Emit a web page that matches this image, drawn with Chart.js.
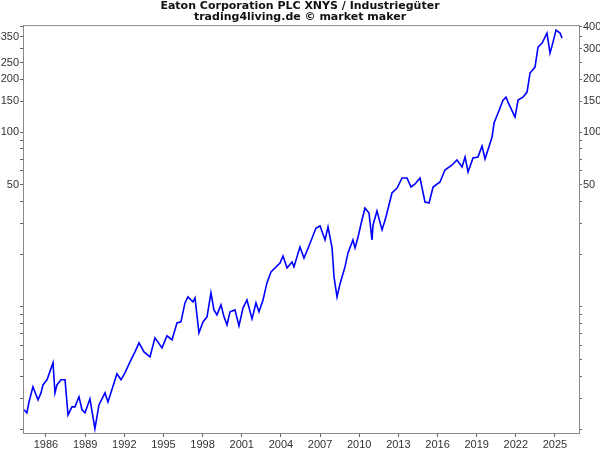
<!DOCTYPE html>
<html>
<head>
<meta charset="utf-8">
<script src="https://cdn.jsdelivr.net/npm/chart.js@4/dist/chart.umd.min.js"></script>
<style>
  body { margin: 0; background: #fff; }
</style>
</head>
<body>
<canvas id="grafico" width="600" height="450"></canvas>
<script>
// Daten
const jahre = [
  1984.31, 1984.54, 1984.70, 1985.00, 1985.39, 1985.62, 1985.77, 1986.08, 1986.54, 1986.69,
  1986.84, 1987.15, 1987.46, 1987.69, 1987.99, 1988.22, 1988.53, 1988.76, 1988.99, 1989.37,
  1989.75, 1990.06, 1990.52, 1990.75, 1991.44, 1991.75, 1992.05, 1992.44, 1992.82, 1993.13,
  1993.51, 1993.97, 1994.35, 1994.89, 1995.27, 1995.66, 1996.04, 1996.34, 1996.65, 1996.88,
  1997.26, 1997.42, 1997.72, 1998.03, 1998.34, 1998.64, 1998.87, 1999.10, 1999.41, 1999.64,
  1999.87, 2000.10, 2000.48, 2000.79, 2001.10, 2001.40, 2001.79, 2002.09, 2002.32, 2002.63,
  2002.93, 2003.24, 2003.93, 2004.16, 2004.47, 2004.85, 2005.00, 2005.46, 2005.77, 2006.15,
  2006.69, 2007.00, 2007.38, 2007.61, 2007.92, 2008.07, 2008.30, 2008.53, 2008.91, 2009.14,
  2009.52, 2009.68, 2009.91, 2010.21, 2010.44, 2010.75, 2010.98, 2011.06, 2011.36, 2011.75,
  2012.05, 2012.51, 2012.90, 2013.28, 2013.66, 2013.97, 2014.28, 2014.66, 2015.04, 2015.35,
  2015.66, 2016.19, 2016.57, 2017.11, 2017.49, 2017.88, 2018.11, 2018.34, 2018.72, 2019.10,
  2019.41, 2019.64, 2020.18, 2020.33, 2020.64, 2021.02, 2021.25, 2021.40, 2021.94, 2022.17,
  2022.55, 2022.86, 2023.09, 2023.47, 2023.70, 2024.01, 2024.39, 2024.62, 2024.85, 2025.08,
  2025.39, 2025.54
];
const kurse = [
  2.58, 2.48, 2.86, 3.49, 2.94, 3.22, 3.58, 3.83, 4.79, 3.22,
  3.58, 3.83, 3.83, 2.41, 2.68, 2.68, 3.06, 2.58, 2.48, 2.98,
  2.01, 2.75, 3.22, 2.86, 4.14, 3.83, 4.20, 4.85, 5.53, 6.23,
  5.53, 5.18, 6.65, 5.83, 6.83, 6.48, 8.10, 8.21, 10.54, 11.41,
  10.68, 11.26, 7.10, 8.21, 8.77, 12.03, 9.61, 9.00, 10.27, 8.77,
  7.89, 9.37, 9.61, 7.79, 9.87, 10.96, 8.54, 10.54, 9.37, 10.96,
  13.71, 15.85, 17.84, 19.56, 16.71, 18.07, 16.93, 22.02, 19.05, 22.31,
  28.28, 29.03, 24.15, 28.65, 21.74, 14.84, 11.41, 13.53, 16.93, 20.35,
  24.15, 21.74, 25.11, 31.41, 36.79, 34.44, 24.15, 29.41, 35.37, 27.55,
  32.68, 44.81, 47.86, 54.6, 54.6, 48.5, 50.5, 54.6, 39.8, 39.3,
  48.5, 51.8, 60.65, 64.8, 69.2, 63.1, 72.0, 59.1, 71.0, 72.0,
  83.2, 70.1, 93.6, 112.6, 128.4, 152.3, 158.5, 148.4, 121.8, 152.3,
  158.5, 169.3, 217.4, 235.2, 306, 322.6, 368, 282.7, 326.8, 382.6,
  368, 344.5
];
const jahresTicks = [1986, 1989, 1992, 1995, 1998, 2001, 2004, 2007, 2010, 2013, 2016, 2019, 2022, 2025];
const labelsLinks = [350, 250, 200, 150, 100, 50];
const labelsRechts = [400, 300, 200, 150, 100, 50];
const nebenTicks = [2, 3, 4, 5, 6, 7, 8, 9, 10, 20, 30, 40, 50, 60, 70, 80, 90, 100,
  150, 200, 250, 300, 350, 400];

const schrift = { family: "'Liberation Sans', Arial, sans-serif", size: 11 };

function yAchse(position, labels, breite) {
  return {
    type: 'logarithmic',
    position: position,
    min: 1.9,
    max: 409,
    afterBuildTicks: (s) => { s.ticks = nebenTicks.map(v => ({ value: v })); },
    afterFit: (s) => { s.width = breite; },
    ticks: {
      autoSkip: false,
      padding: 1,
      color: '#333',
      font: schrift,
      callback: (v) => labels.includes(v) ? String(v) : ''
    },
    grid: { drawOnChartArea: false, tickLength: 3, color: '#666' },
    border: { color: '#888' }
  };
}

// Rahmen um die Zeichenfläche
const rahmen = {
  id: 'rahmen',
  afterDraw(chart) {
    const { ctx, chartArea: a } = chart;
    ctx.save();
    ctx.strokeStyle = '#888';
    ctx.lineWidth = 1;
    ctx.strokeRect(a.left + 0.5, a.top + 0.5, a.right - a.left, a.bottom - a.top);
    ctx.restore();
  }
};

new Chart(document.getElementById('grafico'), {
  type: 'line',
  data: {
    datasets: [{
      data: jahre.map((j, i) => ({ x: j, y: kurse[i] })),
      borderColor: '#0000ff',
      borderWidth: 1.6,
      pointRadius: 0,
      tension: 0
    }]
  },
  options: {
    responsive: false,
    animation: false,
    plugins: {
      legend: { display: false },
      tooltip: { enabled: false },
      title: {
        display: true,
        text: ['Eaton Corporation PLC XNYS / Industriegüter', 'trading4living.de © market maker'],
        color: '#111',
        font: { family: "'DejaVu Sans', sans-serif", size: 11, weight: 'bold', lineHeight: 1.05 },
        padding: { top: 0, bottom: 2 }
      }
    },
    scales: {
      x: {
        type: 'linear',
        min: 1984.24,
        max: 2026.84,
        afterBuildTicks: (s) => { s.ticks = jahresTicks.map(v => ({ value: v })); },
        afterFit: (s) => { s.height = 17; },
        ticks: { autoSkip: false, maxRotation: 0, padding: 1, color: '#333', font: schrift,
          callback: (v) => String(v) },
        grid: { drawOnChartArea: false, tickLength: 4, color: '#666' },
        border: { color: '#888' }
      },
      y: yAchse('left', labelsLinks, 23),
      y2: yAchse('right', labelsRechts, 21)
    }
  },
  plugins: [rahmen]
});
</script>
</body>
</html>
